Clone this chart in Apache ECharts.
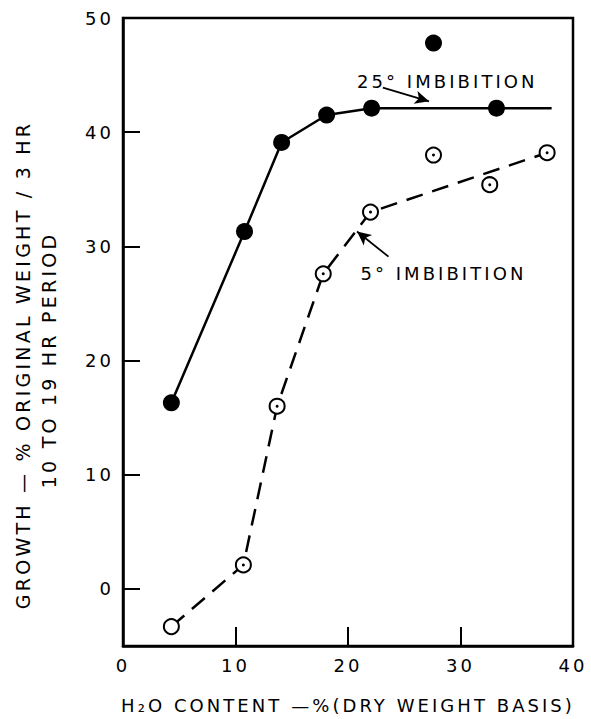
<!DOCTYPE html>
<html>
<head>
<meta charset="utf-8">
<script src="https://cdn.jsdelivr.net/npm/echarts@6/dist/echarts.min.js"></script>
<style>
  html, body { margin: 0; padding: 0; background: #fff; }
  #chart { width: 591px; height: 719px; }
  /* old lettering-guide look: wide spacing on every label */
  #chart text { letter-spacing: 0.17em; }
</style>
</head>
<body>
<div id="chart"></div>
<script>
// ── Data ───────────────────────────────────────────────
// 25° imbibition: measured points (filled circles)
const warmX = [4.3, 10.8, 14.1, 18.1, 22.1, 27.6, 33.2];
const warmY = [16.3, 31.3, 39.1, 41.5, 42.1, 47.8, 42.1];
// 25° drawn curve (plateau runs on past the last point)
const warmCurveX = [4.3, 10.8, 14.1, 18.1, 22.1, 38.1];
const warmCurveY = [16.3, 31.3, 39.1, 41.5, 42.1, 42.1];

// 5° imbibition: measured points (open circles)
const coldX = [4.3, 10.7, 13.7, 17.8, 22.0, 27.6, 32.6, 37.7];
const coldY = [-3.3, 2.1, 16.0, 27.6, 33.0, 38.0, 35.4, 38.2];
// 5° drawn dashed curve
const coldCurveX = [4.3, 10.7, 13.7, 17.8, 22.0, 37.7];
const coldCurveY = [-3.3, 2.1, 16.0, 27.6, 33.0, 38.2];

const xTicks = [0, 10, 20, 30, 40];
const yTicks = [0, 10, 20, 30, 40, 50];

// annotation anchors (data coords)
const warmNote = { text: '25° IMBIBITION', at: [20.8, 44.4], from: [23.1, 43.9], to: [27.2, 42.7] };
const coldNote = { text: '5° IMBIBITION',  at: [21.1, 27.6], from: [23.6, 29.1], to: [20.8, 31.3] };

const yTitle = ['GROWTH — % ORIGINAL WEIGHT / 3 HR', '10 TO 19 HR PERIOD'];
const xTitle = 'H₂O CONTENT —%(DRY WEIGHT BASIS)';

// ── Helpers ────────────────────────────────────────────
const zip  = (xs, ys) => xs.map((x, i) => [x, ys[i]]);
const INK  = '#000';
const FONT = 'DejaVu Sans';
const FS   = 18;

function note(n) {
  return {
    markLine: {
      silent: true,
      symbol: ['none', 'arrow'],
      symbolSize: [10, 14],
      label: { show: false },
      lineStyle: { color: INK, width: 1.8, type: 'solid' },
      emphasis: { disabled: true },
      data: [[{ coord: n.from }, { coord: n.to }]],
    },
    markPoint: {
      silent: true,
      symbol: 'circle',
      symbolSize: 0,
      label: {
        show: true, position: 'right', distance: 0,
        formatter: n.text, color: INK, fontFamily: FONT, fontSize: FS,
      },
      data: [{ coord: n.at }],
    },
  };
}

// ── Chart ──────────────────────────────────────────────
const chart = echarts.init(document.getElementById('chart'), null, { renderer: 'svg' });

chart.setOption({
  backgroundColor: '#fff',
  animation: false,
  grid: {
    left: 123, right: 18, top: 18, bottom: 71,
    show: true, borderColor: INK, borderWidth: 2.5,
  },
  // rotated y title, two lines, sits a bit below the plot's middle
  graphic: yTitle.map((t, i) => ({
    type: 'text',
    x: 23 + i * 26, y: 365 - i * 5,
    rotation: Math.PI / 2,
    silent: true,
    style: {
      text: t, fill: INK, font: `19px "${FONT}"`,
      textAlign: 'center', textVerticalAlign: 'middle',
    },
  })),
  xAxis: {
    type: 'value', min: 0, max: 40,
    name: xTitle,
    nameLocation: 'middle', nameGap: 50,
    nameTextStyle: { color: INK, fontFamily: FONT, fontSize: FS },
    splitLine: { show: false },
    axisLine: { onZero: false, lineStyle: { color: INK, width: 2.5 } },
    axisTick: { inside: true, length: 19, lineStyle: { color: INK, width: 2 }, customValues: xTicks },
    axisLabel: { color: INK, fontFamily: FONT, fontSize: FS, margin: 10, customValues: xTicks },
  },
  yAxis: {
    type: 'value', min: -5, max: 50,
    splitLine: { show: false },
    axisLine: { onZero: false, lineStyle: { color: INK, width: 2.5 } },
    axisTick: { inside: true, length: 17, lineStyle: { color: INK, width: 2 }, customValues: yTicks.slice(0, -1) },
    axisLabel: { color: INK, fontFamily: FONT, fontSize: FS, margin: 9, customValues: yTicks },
  },
  series: [
    Object.assign({
      type: 'line',
      data: zip(warmCurveX, warmCurveY),
      showSymbol: false,
      silent: true,
      lineStyle: { color: INK, width: 2.5 },
      z: 2,
    }, note(warmNote)),
    Object.assign({
      type: 'line',
      data: zip(coldCurveX, coldCurveY),
      showSymbol: false,
      silent: true,
      lineStyle: { color: INK, width: 2.5, type: [17, 10] },
      z: 2,
    }, note(coldNote)),
    {
      type: 'scatter',
      data: zip(warmX, warmY),
      symbol: 'circle',
      symbolSize: 17,
      itemStyle: { color: INK, opacity: 1 },
      z: 3,
    },
    {
      type: 'scatter',
      data: zip(coldX, coldY),
      symbol: 'circle',
      symbolSize: 15,
      itemStyle: { color: '#fff', borderColor: INK, borderWidth: 2, opacity: 1 },
      z: 3,
    },
    {
      // centre dots of the open circles (first one has none)
      type: 'scatter',
      data: zip(coldX, coldY).slice(1),
      symbol: 'circle',
      symbolSize: 3,
      itemStyle: { color: INK, opacity: 1 },
      z: 4,
    },
  ],
});
</script>
</body>
</html>
